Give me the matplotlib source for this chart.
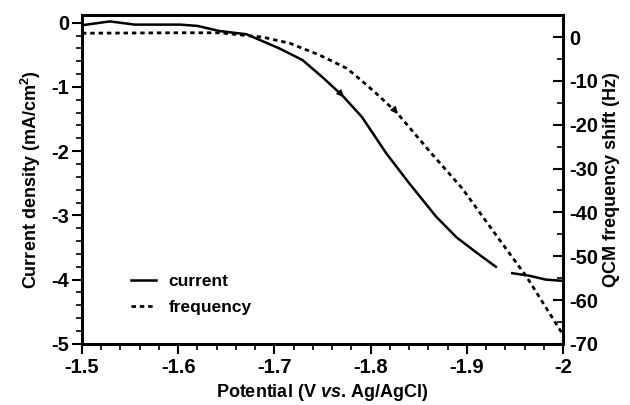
import numpy as np
import matplotlib
matplotlib.use("Agg")
import matplotlib.pyplot as plt
from matplotlib.ticker import MultipleLocator

plt.rcParams['font.family'] = ['Liberation Sans', 'DejaVu Sans']
plt.rcParams['font.weight'] = 'bold'
plt.rcParams['mathtext.fontset'] = 'custom'
plt.rcParams['mathtext.rm'] = 'Liberation Sans:bold'
plt.rcParams['mathtext.bf'] = 'Liberation Sans:bold'
plt.rcParams['mathtext.it'] = 'Liberation Sans:bold:italic'

# current density (mA/cm2) vs potential; nan = gap in trace
pot_cur = [-1.500, -1.529, -1.555, -1.602, -1.620, -1.643, -1.671, -1.705, -1.729, -1.750,
           -1.771, -1.791, -1.816, -1.840, -1.868, -1.889, -1.910, -1.930,
           -1.938, -1.947, -1.965, -1.982, -2.000]
current = [-0.04, 0.02, -0.03, -0.03, -0.05, -0.13, -0.18, -0.40, -0.58, -0.85,
           -1.14, -1.47, -2.03, -2.50, -3.02, -3.34, -3.58, -3.80,
           np.nan, -3.90, -3.94, -4.00, -4.02]

# QCM frequency shift (Hz) vs potential
pot_freq = [-1.500, -1.602, -1.643, -1.688, -1.716, -1.747, -1.775, -1.791, -1.806,
            -1.827, -1.861, -1.895, -1.930, -1.962, -2.000]
freq = [0.9, 1.0, 1.0, 0.0, -1.4, -4.1, -7.1, -10.0, -12.9,
        -17.2, -26.0, -34.5, -45.1, -54.7, -68.0]

fig = plt.figure(figsize=(6.3, 4.05), dpi=100)
ax = fig.add_axes([0.130, 0.151, 0.764, 0.812])
ax2 = ax.twinx()

l1, = ax.plot(pot_cur, current, color='black', lw=1.8)
l2, = ax2.plot(pot_freq, freq, color='black', lw=2.0, linestyle=(0, (1.6, 1.4)))

# scan direction arrows
ax.annotate('', xy=(-1.774, -1.19), xytext=(-1.766, -1.06),
            arrowprops=dict(arrowstyle='-|>', color='black', lw=1, mutation_scale=10))
ax2.annotate('', xy=(-1.830, -18.0), xytext=(-1.822, -15.9),
             arrowprops=dict(arrowstyle='-|>', color='black', lw=1, mutation_scale=10))

ax.set_xlim(-1.5, -2.0)
ax.set_ylim(-5, 0.12)
ax2.set_ylim(-70, 5.06)

ax.xaxis.set_minor_locator(MultipleLocator(0.02))
ax.yaxis.set_minor_locator(MultipleLocator(0.2))
ax2.yaxis.set_minor_locator(MultipleLocator(5))

ax.set_xticks([-1.5, -1.6, -1.7, -1.8, -1.9, -2.0])
ax.set_xticklabels(['-1.5', '-1.6', '-1.7', '-1.8', '-1.9', '-2'])
ax.set_yticks([0, -1, -2, -3, -4, -5])
ax.set_yticklabels(['0', '-1', '-2', '-3', '-4', '-5'])
ax2.set_yticks([0, -10, -20, -30, -40, -50, -60, -70])
ax2.set_yticklabels(['0', '-10', '-20', '-30', '-40', '-50', '-60', '-70'])

ax.tick_params(axis='both', which='major', direction='out', length=7, width=1.5, labelsize=14.5)
ax.tick_params(axis='both', which='minor', direction='out', length=4, width=1.2)
ax.tick_params(axis='x', pad=3)
ax.tick_params(axis='y', pad=2)
ax2.tick_params(axis='y', which='major', direction='in', length=7, width=1.5, labelsize=14.5, pad=4)
ax2.tick_params(axis='y', which='minor', direction='in', length=4, width=1.2)
for a in (ax, ax2):
    for s in a.spines.values():
        s.set_linewidth(2)

ax.set_xlabel('Potential (V $vs.\\,$Ag/AgCl)', fontsize=13, fontweight='bold', labelpad=4)
ax.set_ylabel('Current density (mA/cm$^2$)', fontsize=13, fontweight='bold', labelpad=6)
ax2.set_ylabel('QCM frequency shift (Hz)', fontsize=13, fontweight='bold', labelpad=4)

ax.legend([l1, l2], ['current', 'frequency'], loc='lower left', bbox_to_anchor=(0.07, 0.04),
          frameon=False, prop={'weight': 'bold', 'size': 12.5}, handlelength=1.45,
          handletextpad=0.7, labelspacing=0.6)

fig.savefig('out.png', dpi=100)
